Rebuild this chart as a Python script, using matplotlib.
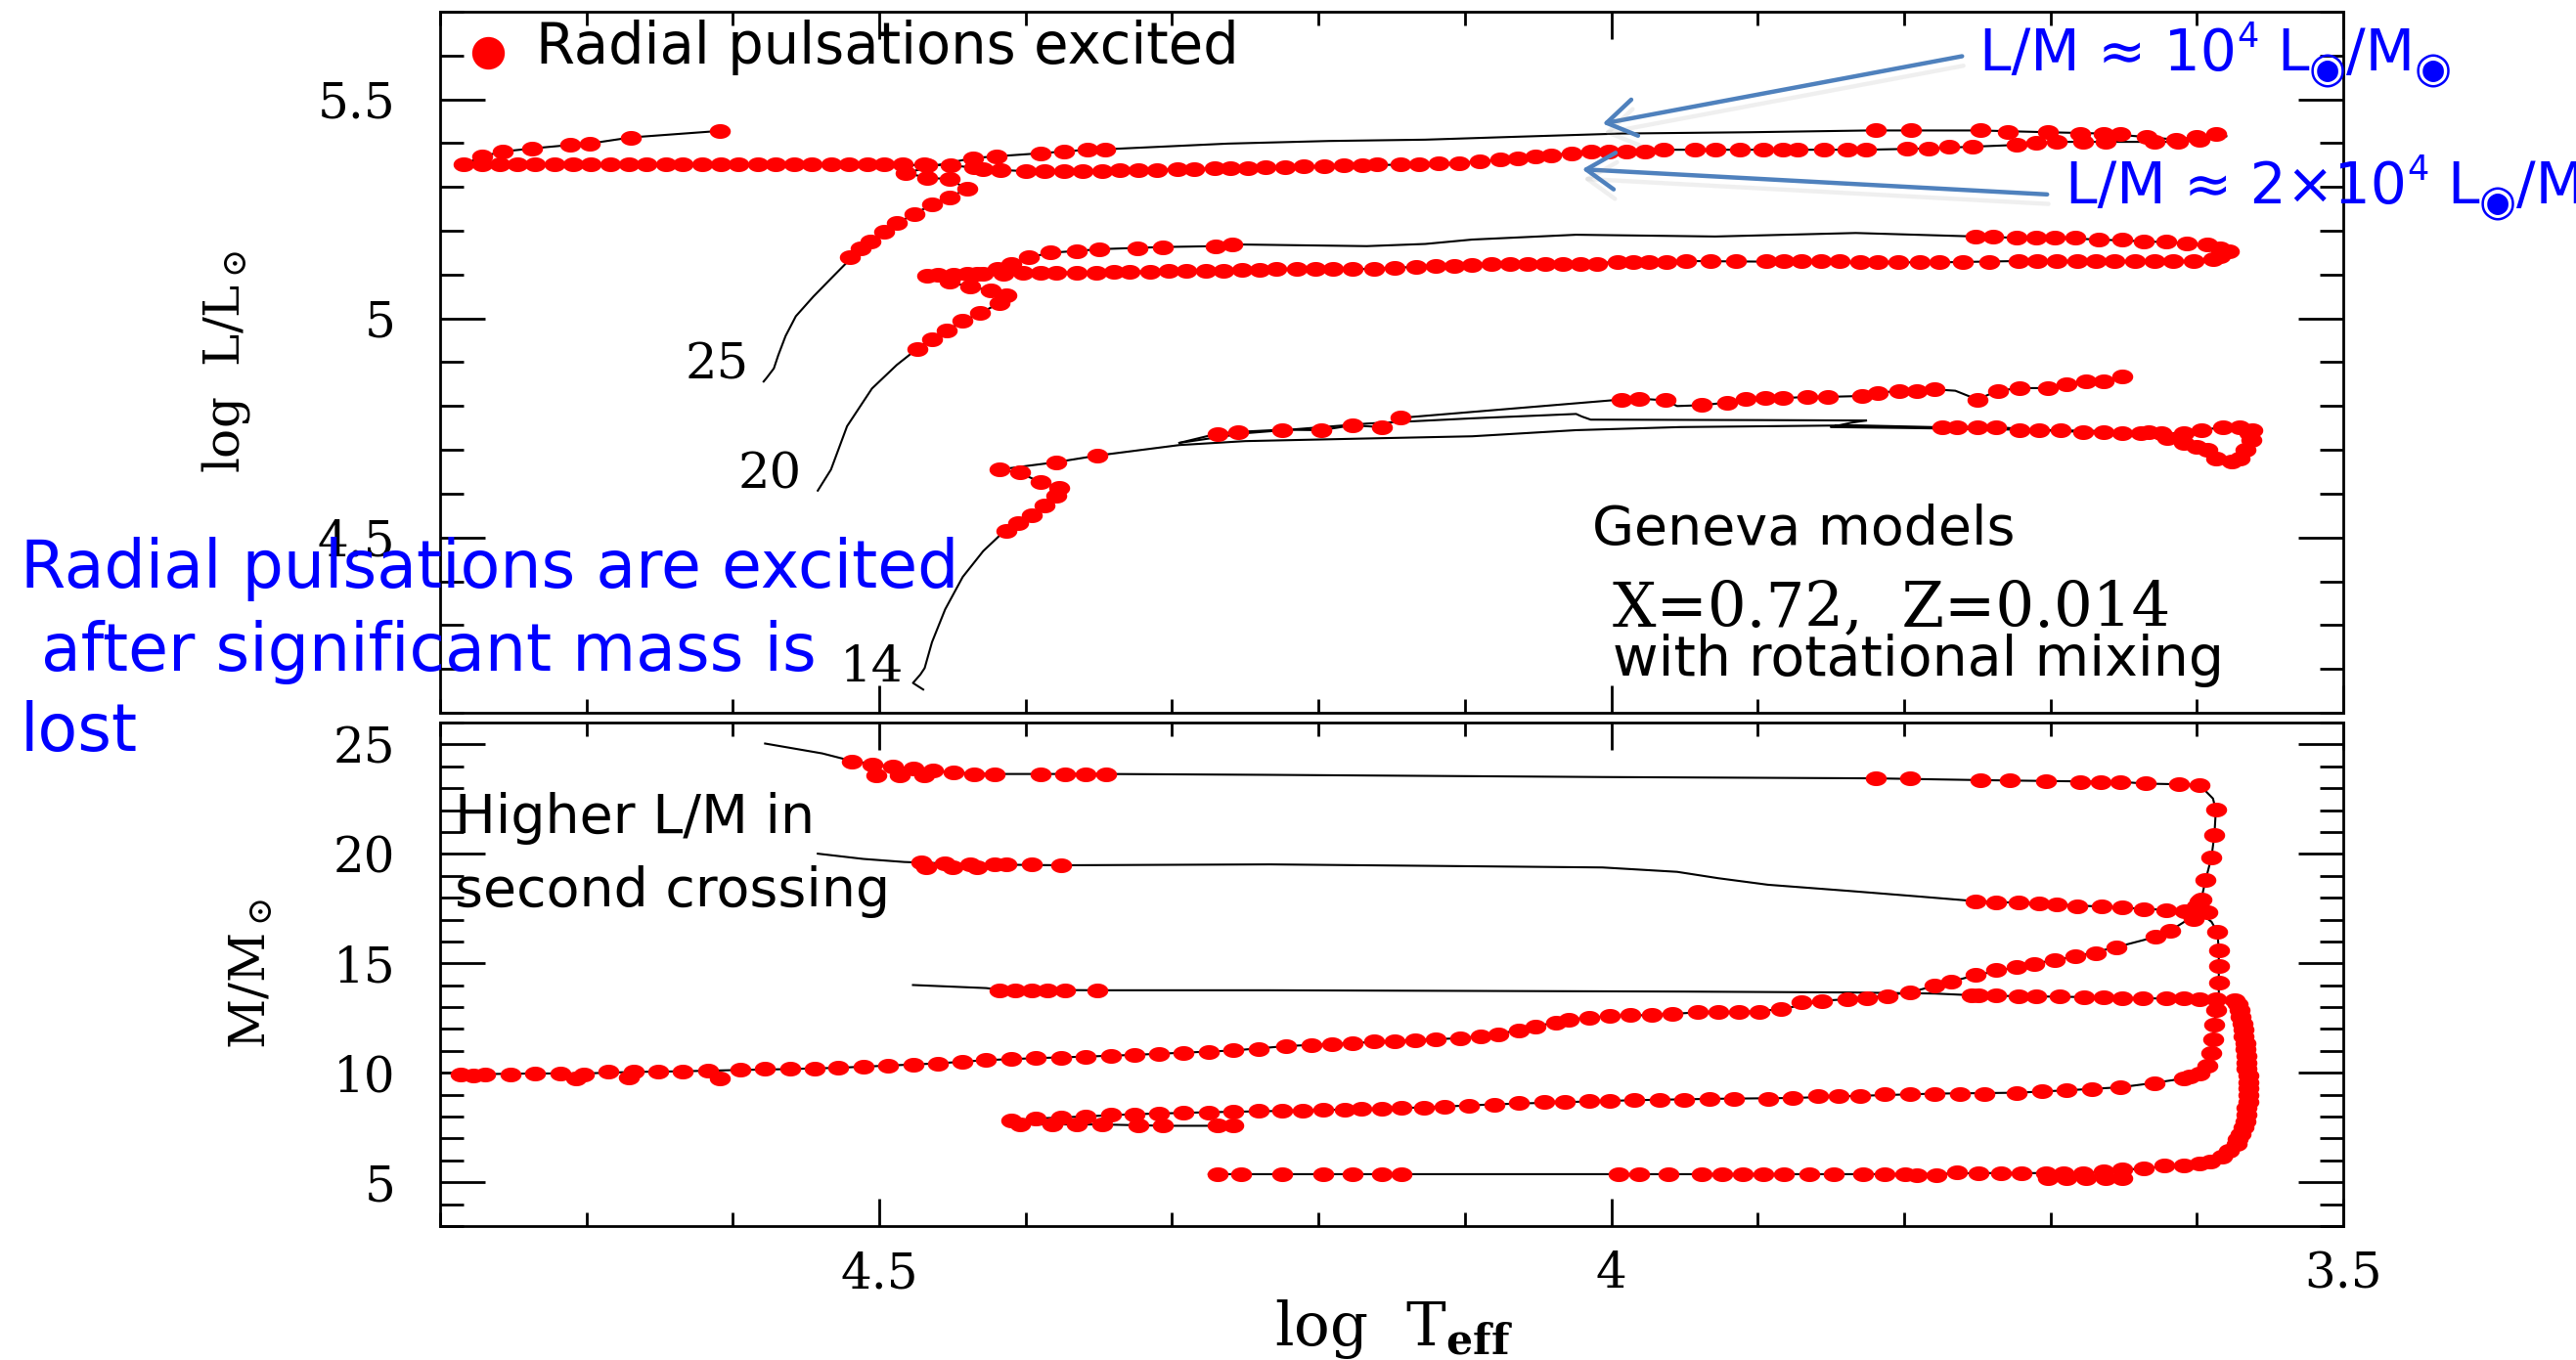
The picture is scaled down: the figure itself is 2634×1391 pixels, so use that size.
import numpy as np
import matplotlib
matplotlib.use("Agg")
import matplotlib.pyplot as plt
from matplotlib.path import Path
from matplotlib.patches import FancyArrowPatch
from matplotlib.ticker import MultipleLocator
import matplotlib.patheffects as pe

W, H = 2634, 1391
plt.rcParams["font.family"] = "DejaVu Serif"
plt.rcParams["mathtext.fontset"] = "dejavuserif"

# ---------------------------------------------------------------- axes setup
x_major = [4.5, 4.0, 3.5]
x_labels = ["4.5", "4", "3.5"]
lum_major = [4.5, 5.0, 5.5]
lum_labels = ["4.5", "5", "5.5"]
mass_major = [5, 10, 15, 20, 25]
mass_labels = ["5", "10", "15", "20", "25"]

# ---------------------------------------------------------------- HR diagram (log Teff, log L/Lsun)
track25_first = [(4.579, 4.856), (4.577, 4.864), (4.572, 4.886), (4.569, 4.916), (4.564, 4.960),
                 (4.557, 5.005), (4.545, 5.050), (4.533, 5.091), (4.520, 5.135), (4.506, 5.176),
                 (4.488, 5.217), (4.464, 5.260), (4.440, 5.295), (4.452, 5.318), (4.467, 5.321),
                 (4.482, 5.332), (4.460, 5.350), (4.436, 5.366), (4.420, 5.370), (4.390, 5.377),
                 (4.358, 5.385), (4.346, 5.386), (4.262, 5.399), (4.193, 5.405), (4.127, 5.408),
                 (4.071, 5.414), (3.993, 5.422), (3.905, 5.425), (3.824, 5.429), (3.748, 5.429),
                 (3.702, 5.425), (3.664, 5.422), (3.634, 5.414), (3.614, 5.408), (3.600, 5.414),
                 (3.587, 5.420), (3.580, 5.416)]
track25_back = [(3.580, 5.416), (3.598, 5.407), (3.613, 5.403), (3.662, 5.403), (3.696, 5.403),
                (3.723, 5.396), (3.753, 5.392), (3.783, 5.388), (3.826, 5.385), (3.964, 5.385),
                (4.002, 5.381), (4.027, 5.377), (4.052, 5.370), (4.076, 5.362), (4.104, 5.355),
                (4.144, 5.351), (4.236, 5.345), (4.323, 5.338), (4.400, 5.336), (4.429, 5.341),
                (4.451, 5.350), (4.600, 5.351), (4.784, 5.351), (4.771, 5.370), (4.757, 5.381),
                (4.737, 5.388), (4.711, 5.396), (4.698, 5.399), (4.670, 5.413), (4.609, 5.428)]
puls25_hr = [(4.520, 5.139), (4.513, 5.159), (4.506, 5.176), (4.497, 5.197), (4.488, 5.217),
             (4.476, 5.239), (4.464, 5.260), (4.452, 5.277), (4.440, 5.295), (4.452, 5.318),
             (4.467, 5.321), (4.482, 5.332), (4.467, 5.350), (4.436, 5.366), (4.420, 5.370),
             (4.390, 5.377), (4.374, 5.381), (4.358, 5.385), (4.346, 5.386),
             (3.819, 5.429), (3.795, 5.429), (3.748, 5.429), (3.729, 5.425), (3.702, 5.425),
             (3.680, 5.422), (3.664, 5.422), (3.652, 5.420), (3.634, 5.414), (3.614, 5.408),
             (3.600, 5.414), (3.587, 5.420),
             (3.598, 5.407), (3.613, 5.403), (3.629, 5.403), (3.662, 5.403), (3.678, 5.403),
             (3.696, 5.403), (3.710, 5.400), (3.723, 5.396), (3.753, 5.392), (3.769, 5.392),
             (3.783, 5.388), (3.798, 5.388), (3.826, 5.385), (3.839, 5.385), (3.855, 5.385),
             (3.873, 5.385), (3.883, 5.385), (3.896, 5.385), (3.912, 5.385), (3.929, 5.385),
             (3.943, 5.385), (3.964, 5.385), (3.977, 5.381), (3.990, 5.381), (4.002, 5.381),
             (4.014, 5.381), (4.027, 5.377), (4.041, 5.373), (4.052, 5.370), (4.064, 5.366),
             (4.076, 5.362), (4.090, 5.358), (4.104, 5.355), (4.118, 5.353), (4.131, 5.352),
             (4.144, 5.351), (4.160, 5.351), (4.170, 5.350), (4.183, 5.349), (4.196, 5.348),
             (4.210, 5.347), (4.223, 5.346), (4.236, 5.345), (4.248, 5.344), (4.260, 5.343),
             (4.271, 5.342), (4.285, 5.341), (4.296, 5.340), (4.310, 5.339), (4.323, 5.338),
             (4.336, 5.338), (4.348, 5.337), (4.361, 5.337), (4.374, 5.336), (4.387, 5.336),
             (4.400, 5.336), (4.417, 5.338), (4.429, 5.341), (4.435, 5.345), (4.451, 5.350),
             (4.469, 5.351), (4.484, 5.351), (4.497, 5.351), (4.508, 5.351), (4.521, 5.351),
             (4.533, 5.351), (4.546, 5.351), (4.558, 5.351), (4.571, 5.351), (4.583, 5.351),
             (4.596, 5.351), (4.608, 5.351), (4.621, 5.351), (4.634, 5.351), (4.646, 5.351),
             (4.659, 5.351), (4.671, 5.351), (4.684, 5.351), (4.697, 5.351), (4.709, 5.351),
             (4.722, 5.351), (4.735, 5.351), (4.747, 5.351), (4.759, 5.351), (4.771, 5.351),
             (4.784, 5.351),
             (4.771, 5.370), (4.757, 5.381), (4.737, 5.388), (4.711, 5.396), (4.698, 5.399),
             (4.670, 5.413), (4.609, 5.428)]

track20_first = [(4.542, 4.607), (4.533, 4.655), (4.522, 4.754), (4.505, 4.840), (4.488, 4.894),
                 (4.474, 4.931), (4.464, 4.953), (4.454, 4.972), (4.443, 4.994), (4.431, 5.012),
                 (4.418, 5.035), (4.413, 5.053), (4.424, 5.064), (4.438, 5.072), (4.452, 5.083),
                 (4.467, 5.098), (4.449, 5.100), (4.433, 5.102), (4.419, 5.113), (4.410, 5.124),
                 (4.398, 5.139), (4.383, 5.150), (4.365, 5.154), (4.350, 5.158), (4.324, 5.161),
                 (4.306, 5.163), (4.270, 5.165), (4.259, 5.169), (4.167, 5.165), (4.127, 5.170),
                 (4.095, 5.180), (4.024, 5.191), (3.929, 5.187), (3.833, 5.195), (3.751, 5.187),
                 (3.723, 5.184), (3.697, 5.184), (3.667, 5.180), (3.636, 5.176), (3.607, 5.172),
                 (3.584, 5.161), (3.578, 5.154)]
track20_back = [(3.578, 5.154), (3.584, 5.143), (3.589, 5.135), (3.602, 5.131), (3.722, 5.131),
                (3.776, 5.128), (3.830, 5.128), (3.949, 5.131), (3.996, 5.128), (4.057, 5.124),
                (4.133, 5.118), (4.162, 5.113), (4.252, 5.110), (4.340, 5.106), (4.415, 5.103),
                (4.440, 5.102), (4.460, 5.100)]
puls20_hr = [(4.474, 4.931), (4.464, 4.953), (4.454, 4.972), (4.443, 4.994), (4.431, 5.012),
             (4.418, 5.035), (4.413, 5.053), (4.424, 5.064), (4.438, 5.072), (4.452, 5.083),
             (4.467, 5.098), (4.449, 5.100), (4.433, 5.102), (4.419, 5.113), (4.410, 5.124),
             (4.398, 5.139), (4.383, 5.150), (4.365, 5.154), (4.350, 5.158), (4.324, 5.161),
             (4.306, 5.163), (4.270, 5.165), (4.259, 5.169),
             (3.751, 5.187), (3.739, 5.187), (3.723, 5.184), (3.710, 5.184), (3.697, 5.184),
             (3.683, 5.184), (3.667, 5.180), (3.651, 5.180), (3.636, 5.176), (3.621, 5.176),
             (3.607, 5.172), (3.593, 5.169), (3.584, 5.161), (3.578, 5.154),
             (3.584, 5.143), (3.589, 5.135), (3.602, 5.131), (3.616, 5.131), (3.629, 5.131),
             (3.642, 5.131), (3.656, 5.131), (3.669, 5.131), (3.682, 5.131), (3.696, 5.131),
             (3.709, 5.131), (3.722, 5.131), (3.742, 5.128), (3.760, 5.128), (3.776, 5.128),
             (3.789, 5.128), (3.804, 5.128), (3.818, 5.128), (3.830, 5.128), (3.844, 5.130),
             (3.857, 5.131), (3.870, 5.131), (3.882, 5.131), (3.894, 5.131), (3.915, 5.131),
             (3.932, 5.131), (3.949, 5.131), (3.962, 5.128), (3.974, 5.128), (3.985, 5.128),
             (3.996, 5.128), (4.010, 5.124), (4.021, 5.124), (4.033, 5.124), (4.045, 5.124),
             (4.057, 5.124), (4.069, 5.124), (4.082, 5.124), (4.095, 5.122), (4.107, 5.120),
             (4.120, 5.120), (4.133, 5.118), (4.148, 5.116), (4.162, 5.113), (4.177, 5.112),
             (4.190, 5.112), (4.202, 5.112), (4.215, 5.112), (4.229, 5.112), (4.240, 5.111),
             (4.252, 5.110), (4.265, 5.109), (4.277, 5.108), (4.290, 5.108), (4.302, 5.108),
             (4.315, 5.107), (4.329, 5.107), (4.340, 5.106), (4.352, 5.105), (4.365, 5.105),
             (4.379, 5.105), (4.390, 5.104), (4.402, 5.104), (4.415, 5.103), (4.429, 5.102),
             (4.440, 5.102), (4.460, 5.100)]

track14_first = [(4.470, 4.153), (4.477, 4.168), (4.472, 4.187), (4.469, 4.202), (4.464, 4.261),
                 (4.455, 4.336), (4.443, 4.410), (4.429, 4.469), (4.417, 4.507), (4.413, 4.514),
                 (4.405, 4.533), (4.396, 4.551), (4.387, 4.573), (4.379, 4.596), (4.377, 4.614),
                 (4.390, 4.626), (4.404, 4.648), (4.418, 4.655), (4.400, 4.663), (4.379, 4.672),
                 (4.351, 4.687), (4.295, 4.711), (4.250, 4.720), (4.167, 4.726), (4.095, 4.731),
                 (4.024, 4.745), (3.953, 4.752), (3.833, 4.756), (3.780, 4.752), (3.737, 4.752),
                 (3.708, 4.745), (3.678, 4.741), (3.638, 4.738), (3.609, 4.738), (3.597, 4.745),
                 (3.582, 4.752), (3.571, 4.752), (3.562, 4.745), (3.563, 4.722), (3.567, 4.700),
                 (3.571, 4.681), (3.576, 4.674), (3.587, 4.681), (3.593, 4.700), (3.600, 4.707),
                 (3.609, 4.715), (3.620, 4.726), (3.633, 4.741), (3.700, 4.745), (3.800, 4.750),
                 (3.850, 4.752), (3.836, 4.762), (3.826, 4.767)]
track14_mid = [(3.826, 4.767), (3.900, 4.768), (4.014, 4.769), (4.020, 4.776), (4.024, 4.782),
               (4.095, 4.772), (4.167, 4.760), (4.250, 4.738), (4.295, 4.716)]
track14_upper = [(4.295, 4.716), (4.269, 4.737), (4.255, 4.741), (4.225, 4.746), (4.198, 4.745),
                 (4.177, 4.756), (4.157, 4.752), (4.144, 4.773), (4.000, 4.813), (3.993, 4.815),
                 (3.981, 4.817), (3.963, 4.813), (3.955, 4.800), (3.938, 4.802), (3.921, 4.808),
                 (3.908, 4.817), (3.895, 4.818), (3.883, 4.818), (3.866, 4.821), (3.852, 4.821),
                 (3.829, 4.823), (3.818, 4.830), (3.803, 4.835), (3.791, 4.835), (3.779, 4.838),
                 (3.765, 4.835), (3.750, 4.815), (3.736, 4.835), (3.721, 4.841), (3.702, 4.841),
                 (3.694, 4.845), (3.692, 4.838), (3.689, 4.850), (3.676, 4.856), (3.664, 4.857),
                 (3.651, 4.867)]
puls14_hr = [(4.413, 4.514), (4.405, 4.533), (4.396, 4.551), (4.387, 4.573), (4.379, 4.596),
             (4.377, 4.614), (4.390, 4.626), (4.404, 4.648), (4.418, 4.655), (4.379, 4.672),
             (4.351, 4.687),
             (4.269, 4.737), (4.255, 4.741), (4.225, 4.746), (4.198, 4.745), (4.177, 4.756),
             (4.157, 4.752), (4.144, 4.773), (3.993, 4.815), (3.981, 4.817), (3.963, 4.813),
             (3.938, 4.802), (3.921, 4.808), (3.908, 4.817), (3.895, 4.818), (3.883, 4.818),
             (3.866, 4.821), (3.852, 4.821), (3.829, 4.823), (3.818, 4.830), (3.803, 4.835),
             (3.791, 4.835), (3.779, 4.838), (3.750, 4.815), (3.736, 4.835), (3.721, 4.841),
             (3.702, 4.841), (3.689, 4.850), (3.676, 4.856), (3.664, 4.857), (3.651, 4.867),
             (3.774, 4.752), (3.764, 4.752), (3.750, 4.752), (3.737, 4.752), (3.721, 4.745),
             (3.708, 4.745), (3.693, 4.745), (3.678, 4.741), (3.664, 4.741), (3.651, 4.738),
             (3.638, 4.738), (3.624, 4.738), (3.609, 4.738), (3.597, 4.745), (3.582, 4.752),
             (3.571, 4.752), (3.564, 4.738),
             (3.562, 4.745), (3.563, 4.722), (3.567, 4.700), (3.571, 4.681), (3.576, 4.674),
             (3.587, 4.681), (3.593, 4.700), (3.600, 4.707), (3.609, 4.715), (3.620, 4.726),
             (3.633, 4.741)]

# ---------------------------------------------------------------- current mass (log Teff, M/Msun)
track25_mass = [(4.578, 25.04), (4.539, 24.59), (4.522, 24.30), (4.505, 24.10), (4.477, 23.90),
                (4.449, 23.71), (4.421, 23.65), (4.345, 23.65), (4.233, 23.61), (4.006, 23.51),
                (3.819, 23.45), (3.748, 23.37), (3.703, 23.33), (3.652, 23.29), (3.635, 23.21),
                (3.612, 23.18), (3.598, 23.14), (3.589, 22.53), (3.587, 22.01), (3.588, 20.87),
                (3.590, 19.85), (3.594, 18.81), (3.597, 17.92), (3.602, 17.17), (3.618, 16.50),
                (3.628, 16.21), (3.655, 15.74), (3.683, 15.31), (3.711, 14.99), (3.751, 14.46),
                (3.779, 13.97), (3.796, 13.68), (3.825, 13.42), (3.856, 13.29), (3.884, 12.90),
                (3.913, 12.76), (3.941, 12.76), (3.972, 12.64), (4.001, 12.60), (4.029, 12.44),
                (4.052, 12.11), (4.077, 11.77), (4.103, 11.58), (4.134, 11.50), (4.177, 11.36),
                (4.222, 11.22), (4.258, 11.02), (4.292, 10.92), (4.326, 10.82), (4.359, 10.74),
                (4.393, 10.67), (4.427, 10.58), (4.460, 10.43), (4.494, 10.33), (4.528, 10.23),
                (4.561, 10.17), (4.595, 10.13), (4.634, 10.07), (4.668, 10.04), (4.702, 9.97),
                (4.735, 9.97), (4.786, 9.93)]
puls25_mass = [(4.519, 24.20), (4.505, 24.10), (4.491, 24.00), (4.477, 23.90), (4.463, 23.81),
               (4.449, 23.71), (4.435, 23.65), (4.421, 23.65), (4.390, 23.65), (4.373, 23.65),
               (4.359, 23.65), (4.345, 23.65), (4.502, 23.61), (4.486, 23.61), (4.469, 23.57),
               (3.819, 23.45), (3.796, 23.45), (3.748, 23.37), (3.728, 23.37), (3.703, 23.33),
               (3.680, 23.29), (3.666, 23.29), (3.652, 23.29), (3.635, 23.21), (3.612, 23.18),
               (3.598, 23.14),
               (3.587, 22.01), (3.588, 20.87), (3.590, 19.85), (3.594, 18.81), (3.597, 17.92),
               (3.602, 17.17),
               (3.618, 16.50), (3.628, 16.21), (3.655, 15.74), (3.669, 15.44), (3.683, 15.31),
               (3.697, 15.15), (3.711, 14.99), (3.723, 14.85), (3.737, 14.70), (3.751, 14.46),
               (3.768, 14.17), (3.779, 13.97), (3.796, 13.68), (3.811, 13.50), (3.825, 13.42),
               (3.839, 13.38), (3.856, 13.29), (3.870, 13.22), (3.884, 12.90), (3.899, 12.80),
               (3.913, 12.76), (3.927, 12.76), (3.941, 12.76), (3.958, 12.70), (3.972, 12.64),
               (3.987, 12.64), (4.001, 12.60), (4.015, 12.50), (4.029, 12.44), (4.038, 12.30),
               (4.052, 12.11), (4.063, 11.91), (4.077, 11.77), (4.089, 11.66), (4.103, 11.58),
               (4.120, 11.52), (4.134, 11.50), (4.148, 11.46), (4.162, 11.42), (4.177, 11.36),
               (4.191, 11.30), (4.205, 11.26), (4.222, 11.22), (4.241, 11.10), (4.258, 11.02),
               (4.275, 10.96), (4.292, 10.92), (4.309, 10.86), (4.326, 10.82), (4.342, 10.78),
               (4.359, 10.74), (4.376, 10.70), (4.393, 10.67), (4.410, 10.62), (4.427, 10.58),
               (4.443, 10.49), (4.460, 10.43), (4.477, 10.39), (4.494, 10.33), (4.511, 10.27),
               (4.528, 10.23), (4.544, 10.19), (4.561, 10.17), (4.578, 10.17), (4.595, 10.13),
               (4.617, 10.09), (4.634, 10.07), (4.651, 10.07), (4.668, 10.04), (4.685, 10.04),
               (4.702, 9.93), (4.718, 9.97), (4.735, 9.97), (4.752, 9.93), (4.769, 9.93),
               (4.786, 9.93), (4.777, 9.88), (4.707, 9.74), (4.671, 9.80), (4.609, 9.74)]

track20_mass = [(4.542, 20.01), (4.511, 19.77), (4.483, 19.63), (4.438, 19.52), (4.376, 19.48),
                (4.233, 19.52), (4.006, 19.38), (3.955, 19.18), (3.927, 18.89), (3.893, 18.59),
                (3.836, 18.30), (3.791, 18.06), (3.751, 17.84), (3.708, 17.73), (3.665, 17.59),
                (3.621, 17.44), (3.608, 17.40), (3.598, 17.30), (3.590, 16.90), (3.586, 16.43),
                (3.585, 15.61), (3.585, 14.87), (3.585, 14.13), (3.585, 13.50), (3.587, 12.86),
                (3.588, 12.19), (3.589, 11.52), (3.590, 10.92), (3.593, 10.33), (3.598, 9.96),
                (3.609, 9.74), (3.629, 9.54), (3.652, 9.34), (3.689, 9.20), (3.723, 9.09),
                (3.779, 9.05), (3.830, 8.95), (3.876, 8.85), (3.933, 8.81), (3.984, 8.75),
                (4.032, 8.66), (4.080, 8.56), (4.128, 8.42), (4.171, 8.34), (4.225, 8.26),
                (4.275, 8.20), (4.326, 8.11), (4.359, 8.01), (4.393, 7.91), (4.410, 7.83),
                (4.412, 7.72), (4.404, 7.64), (4.348, 7.64), (4.306, 7.58), (4.258, 7.58)]
puls20_mass = [(4.471, 19.63), (4.455, 19.58), (4.438, 19.52), (4.421, 19.52), (4.413, 19.52),
               (4.396, 19.52), (4.376, 19.48), (4.468, 19.38), (4.450, 19.38), (4.433, 19.38),
               (3.751, 17.84), (3.737, 17.80), (3.722, 17.77), (3.708, 17.73), (3.696, 17.70),
               (3.682, 17.62), (3.665, 17.59), (3.651, 17.55), (3.636, 17.47), (3.621, 17.44),
               (3.608, 17.40), (3.600, 17.62), (3.598, 17.84), (3.593, 17.33), (3.602, 17.03),
               (3.586, 16.43), (3.585, 15.61), (3.585, 14.87), (3.585, 14.13), (3.587, 12.86),
               (3.588, 12.19), (3.589, 11.52), (3.590, 10.92), (3.593, 10.33), (3.598, 9.96),
               (3.605, 9.85), (3.609, 9.74), (3.629, 9.54), (3.652, 9.34), (3.672, 9.25),
               (3.689, 9.20), (3.706, 9.15), (3.723, 9.09), (3.745, 9.05), (3.762, 9.05),
               (3.779, 9.05), (3.796, 9.01), (3.813, 9.01), (3.830, 8.95), (3.845, 8.95),
               (3.859, 8.95), (3.876, 8.85), (3.893, 8.81), (3.916, 8.81), (3.933, 8.81),
               (3.950, 8.75), (3.967, 8.75), (3.984, 8.75), (4.001, 8.71), (4.015, 8.70),
               (4.032, 8.66), (4.046, 8.66), (4.063, 8.62), (4.080, 8.56), (4.097, 8.50),
               (4.114, 8.46), (4.128, 8.42), (4.143, 8.40), (4.157, 8.36), (4.171, 8.34),
               (4.182, 8.32), (4.197, 8.30), (4.211, 8.26), (4.225, 8.26), (4.241, 8.25),
               (4.258, 8.22), (4.275, 8.20), (4.292, 8.17), (4.309, 8.14), (4.326, 8.11),
               (4.342, 8.07), (4.359, 8.01), (4.376, 7.97), (4.393, 7.91), (4.410, 7.83),
               (4.404, 7.64), (4.382, 7.64), (4.365, 7.64), (4.348, 7.64), (4.323, 7.58),
               (4.306, 7.58), (4.269, 7.58), (4.258, 7.58)]

track14_mass = [(4.477, 14.01), (4.427, 13.87), (4.418, 13.80), (4.351, 13.77), (4.233, 13.77),
                (3.950, 13.71), (3.836, 13.67), (3.779, 13.62), (3.749, 13.53), (3.710, 13.49),
                (3.677, 13.46), (3.651, 13.42), (3.621, 13.39), (3.598, 13.35), (3.574, 13.31),
                (3.572, 13.16), (3.570, 12.56), (3.568, 11.97), (3.567, 11.37), (3.566, 10.78),
                (3.566, 10.18), (3.565, 9.58), (3.565, 8.99), (3.566, 8.40), (3.567, 7.80),
                (3.570, 7.21), (3.573, 6.76), (3.578, 6.46), (3.583, 6.17), (3.591, 5.94),
                (3.609, 5.79), (3.636, 5.64), (3.664, 5.49), (3.678, 5.42), (3.749, 5.42),
                (3.791, 5.37), (3.995, 5.37), (4.143, 5.37), (4.275, 5.37)]
puls14_mass = [(4.418, 13.77), (4.407, 13.77), (4.396, 13.77), (4.385, 13.77), (4.373, 13.77),
               (4.351, 13.77),
               (3.754, 13.54), (3.749, 13.53), (3.737, 13.53), (3.722, 13.49), (3.710, 13.49),
               (3.694, 13.49), (3.677, 13.46), (3.664, 13.46), (3.651, 13.42), (3.637, 13.42),
               (3.621, 13.39), (3.609, 13.39), (3.598, 13.35), (3.587, 13.35), (3.574, 13.31),
               (3.572, 13.16), (3.571, 12.86), (3.570, 12.56), (3.569, 12.26), (3.568, 11.97),
               (3.568, 11.67), (3.567, 11.37), (3.567, 11.08), (3.566, 10.78), (3.566, 10.48),
               (3.566, 10.18), (3.565, 9.88), (3.565, 9.58), (3.565, 9.29), (3.565, 8.99),
               (3.565, 8.69), (3.566, 8.40), (3.566, 8.10), (3.567, 7.80), (3.568, 7.50),
               (3.570, 7.21), (3.572, 6.98), (3.573, 6.76), (3.578, 6.46), (3.583, 6.17),
               (3.591, 5.94),
               (3.598, 5.87), (3.609, 5.79), (3.622, 5.75), (3.636, 5.64), (3.651, 5.57),
               (3.664, 5.49), (3.678, 5.42), (3.691, 5.42), (3.703, 5.42), (3.720, 5.42),
               (3.734, 5.42), (3.749, 5.42), (3.764, 5.45), (3.778, 5.34), (3.791, 5.34),
               (3.702, 5.20), (3.689, 5.20), (3.676, 5.20), (3.662, 5.20), (3.651, 5.20),
               (3.799, 5.37), (3.813, 5.37), (3.828, 5.37), (3.848, 5.37), (3.865, 5.37),
               (3.882, 5.37), (3.896, 5.37), (3.910, 5.37), (3.924, 5.37), (3.938, 5.37),
               (3.961, 5.37), (3.981, 5.37), (3.995, 5.37), (4.143, 5.37), (4.157, 5.37),
               (4.177, 5.37), (4.197, 5.37), (4.225, 5.37), (4.253, 5.37), (4.269, 5.37)]

# ---------------------------------------------------------------- figure
fig = plt.figure(figsize=(W / 100, H / 100), dpi=100)


def fx(px):
    return px / W


def fy(py):
    return 1 - py / H


ax1 = fig.add_axes([fx(450), fy(729), (2396 - 450) / W, (729 - 12) / H])
ax2 = fig.add_axes([fx(450), fy(1254), (2396 - 450) / W, (1254 - 739) / H])

theta = np.linspace(0, 2 * np.pi, 48)
dot = Path(np.column_stack([np.cos(theta), 0.7 * np.sin(theta)]))


def track(ax, pts):
    t, v = zip(*pts)
    ax.plot(t, v, color="black", lw=1.5, zorder=2, solid_joinstyle="round")


def pulsating(ax, pts):
    t, v = zip(*pts)
    ax.plot(t, v, ls="none", marker=dot, ms=15.5, mfc="#ff0000", mec="none", zorder=3)


for pts in (track25_first, track25_back, track20_first, track20_back,
            track14_first, track14_mid, track14_upper):
    track(ax1, pts)
for pts in (puls25_hr, puls20_hr, puls14_hr):
    pulsating(ax1, pts)
for pts in (track25_mass, track20_mass, track14_mass):
    track(ax2, pts)
for pts in (puls25_mass, puls20_mass, puls14_mass):
    pulsating(ax2, pts)

ax1.set_ylim(4.1, 5.7)
ax2.set_ylim(3, 26)
ax1.set_yticks(lum_major, lum_labels)
ax1.yaxis.set_minor_locator(MultipleLocator(0.1))
ax2.set_yticks(mass_major, mass_labels)
ax2.yaxis.set_minor_locator(MultipleLocator(1))
for ax in (ax1, ax2):
    ax.set_xlim(4.8, 3.5)
    ax.set_xticks(x_major, x_labels)
    ax.xaxis.set_minor_locator(MultipleLocator(0.1))
    ax.tick_params(which="both", direction="in", top=True, right=True, width=2,
                   labelsize=36, colors="black")
    ax.tick_params(axis="x", which="major", length=20, pad=18)
    ax.tick_params(axis="x", which="minor", length=10)
    ax.tick_params(axis="y", which="major", length=33, pad=33)
    ax.tick_params(axis="y", which="minor", length=17)
    for sp in ax.spines.values():
        sp.set_linewidth(2)
ax1.tick_params(labelbottom=False)

ax1.set_ylabel(r"log  L/L$_\odot$", fontsize=36)
ax1.yaxis.set_label_coords((258 - 450) / 1946, 0.5)
ax2.set_ylabel(r"M/M$_\odot$", fontsize=36)
ax2.yaxis.set_label_coords((282 - 450) / 1946, 0.5)
ax2.set_xlabel(r"log  T$_{\mathbf{eff}}$", fontsize=44, va="top")
ax2.xaxis.set_label_coords((1425 - 450) / 1946, -(1327 - 1254) / 515)

# mass labels on the tracks
for txt, xc, yb in (("25", 733, 388), ("20", 787, 499), ("14", 891, 697)):
    fig.text(fx(xc), fy(yb), txt, fontsize=37, ha="center", va="baseline")

# legend symbol
ax1.plot([(499 - 450) / 1946], [1 - (54 - 12) / 717], "o", ms=24, color="#ff0000",
         mec="none", transform=ax1.transAxes, clip_on=False, zorder=5)

sans = "DejaVu Sans"
blue = "#0000ff"
fig.text(fx(548), fy(65), "Radial pulsations excited", fontsize=41.5, family=sans, va="baseline")
fig.text(fx(1628), fy(557), "Geneva models", fontsize=40, family=sans, va="baseline")
fig.text(fx(1649), fy(640), "X=0.72,  Z=0.014", fontsize=45, va="baseline")
fig.text(fx(1649), fy(691), "with rotational mixing", fontsize=41, family=sans, va="baseline")
fig.text(fx(465), fy(852), "Higher L/M in", fontsize=40, family=sans, va="baseline")
fig.text(fx(465), fy(927), "second crossing", fontsize=40, family=sans, va="baseline")
fig.text(fx(21), fy(601), "Radial pulsations are excited", fontsize=48, family=sans,
         color=blue, va="baseline")
fig.text(fx(42), fy(686), "after significant mass is", fontsize=48, family=sans,
         color=blue, va="baseline")
fig.text(fx(21), fy(768), "lost", fontsize=48, family=sans, color=blue, va="baseline")

renderer = fig.canvas.get_renderer()


def rich_text(x, y, pieces, size, color):
    em = size * 100 / 72
    for s, scale, rise in pieces:
        if s == " ":
            x += 0.32 * em
            continue
        t = fig.text(fx(x), fy(y - rise * em), s, fontsize=size * scale, color=color,
                     family=sans, ha="left", va="baseline")
        x += t.get_window_extent(renderer).width


sun = "\u25c9"
rich_text(2024, 72, [("L/M \u2248 10", 1, 0), ("4", 0.6, 0.42), (" ", 1, 0), ("L", 1, 0),
                     (sun, 0.75, -0.22), ("/M", 1, 0), (sun, 0.75, -0.22)], 42, blue)
rich_text(2112, 208, [("L/M \u2248 2\u00d710", 1, 0), ("4", 0.6, 0.42), (" ", 1, 0), ("L", 1, 0),
                      (sun, 0.75, -0.22), ("/M", 1, 0), (sun, 0.75, -0.22)], 42, blue)

for (xa, ya), (xb, yb) in (((2009, 57), (1636, 127)), ((2096, 199), (1615, 173))):
    arr = FancyArrowPatch((fx(xa), fy(ya)), (fx(xb), fy(yb)), transform=fig.transFigure,
                          arrowstyle="->,head_length=0.7,head_width=0.45", mutation_scale=30,
                          color="#4f81bd", lw=3.2, capstyle="round", joinstyle="round",
                          path_effects=[pe.SimpleLineShadow(offset=(1, -7), shadow_color="#999999",
                                                            alpha=0.15),
                                        pe.Normal()])
    fig.patches.append(arr)

fig.savefig("out.png", dpi=100)
